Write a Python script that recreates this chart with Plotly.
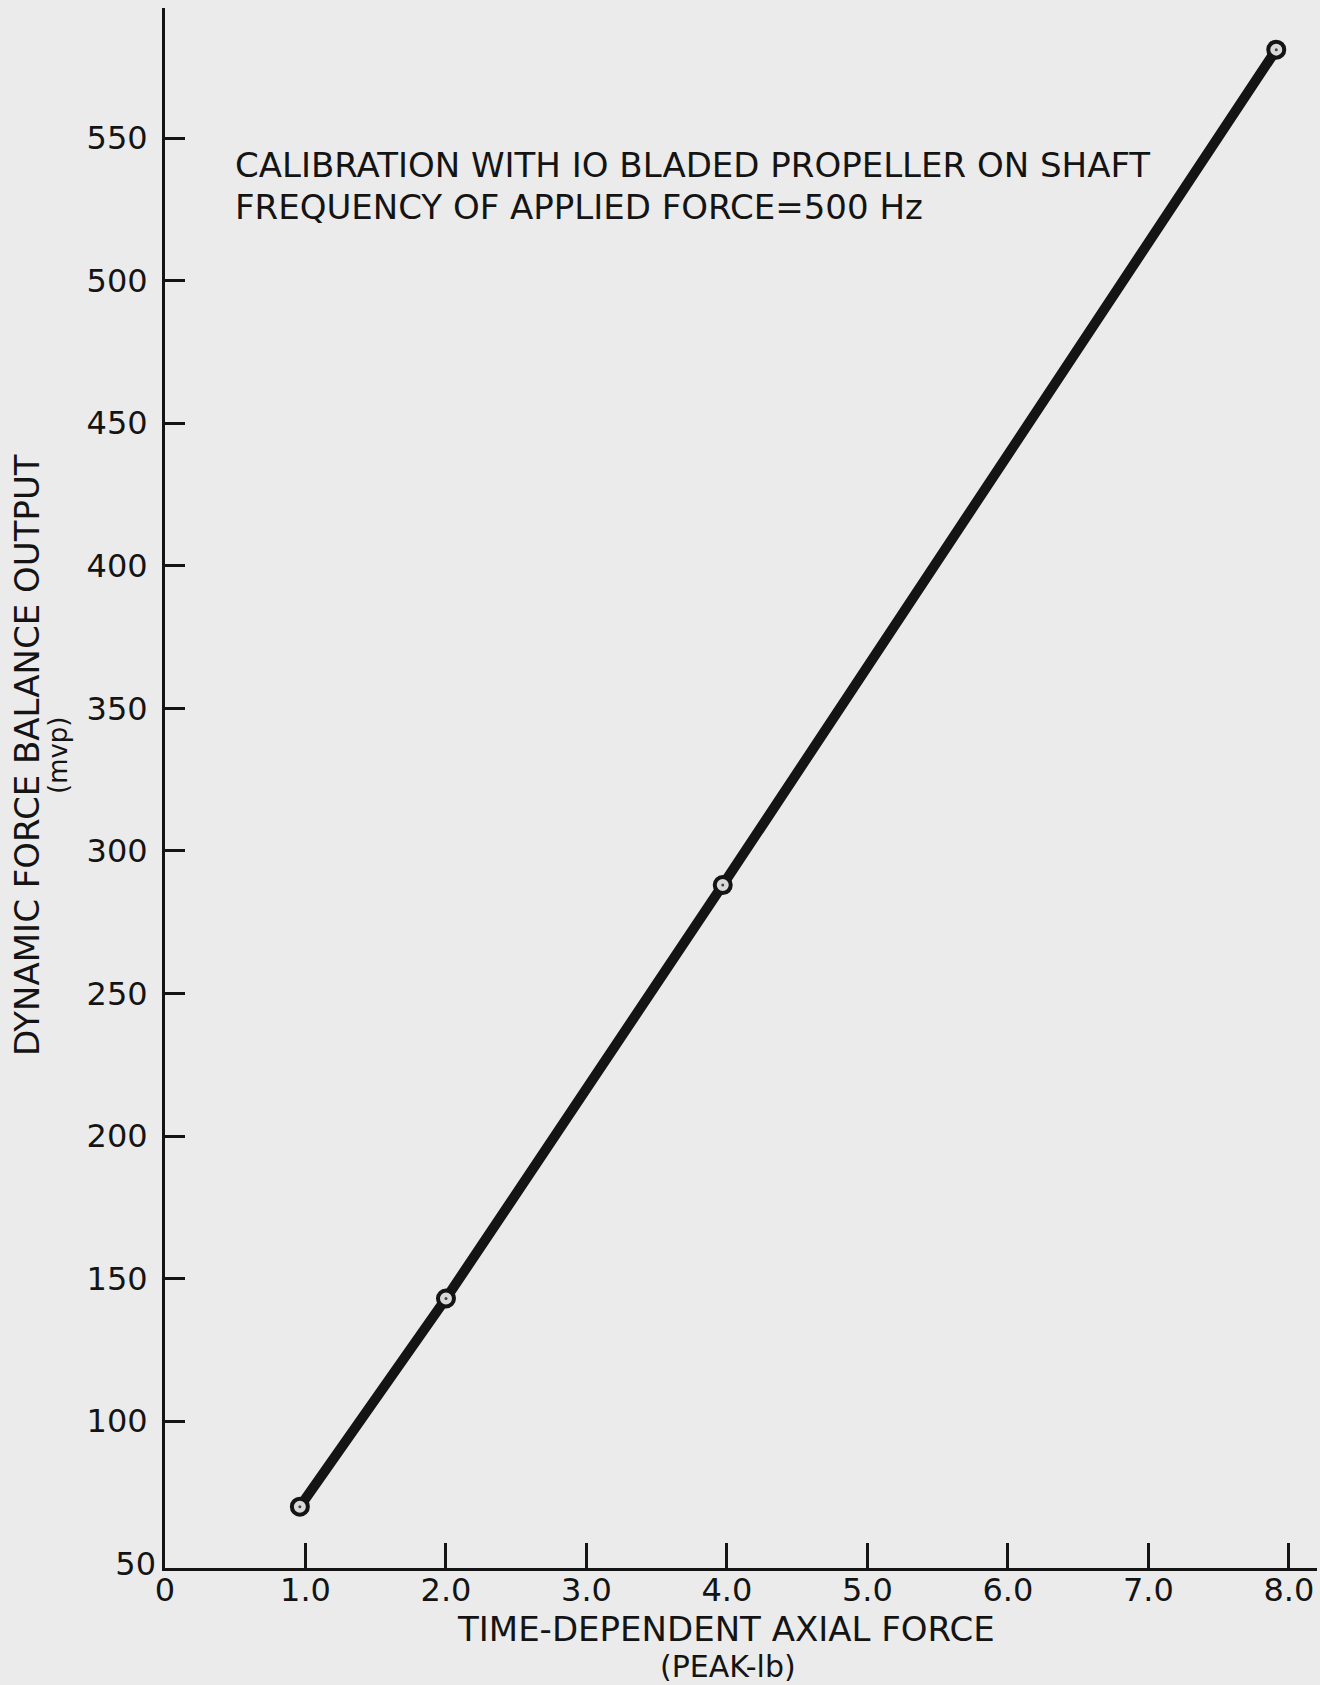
import plotly.graph_objects as go

# Data
force_peak_lb = [0.96, 2.0, 3.97, 7.91]
balance_output_mvp = [70, 143, 288, 581]

x_tick_vals = [0, 1, 2, 3, 4, 5, 6, 7, 8]
x_tick_text = ["0", "1.0", "2.0", "3.0", "4.0", "5.0", "6.0", "7.0", "8.0"]
y_tick_vals = [100, 150, 200, 250, 300, 350, 400, 450, 500, 550]
y_tick_text = [str(v) for v in y_tick_vals]
y_origin_val = [50]
y_origin_text = ["50"]

note_lines = ["CALIBRATION WITH IO BLADED PROPELLER ON SHAFT",
              "FREQUENCY OF APPLIED FORCE=500 Hz"]
x_title = ["TIME-DEPENDENT AXIAL FORCE", "(PEAK-lb)"]
y_title = ["DYNAMIC FORCE BALANCE OUTPUT", "(mvp)"]

INK = "#141414"
PAPER = "#ebebeb"
FONT = "DejaVu Sans, sans-serif"

L, T, B = 165, 8, 117
W, H = 1320, 1685
PW, PH = W - L - 3, H - T - B
Y_RANGE = [48.5, 595.6]


def px(xp):
    return (xp - L) / PW


def py(yp):
    return (H - B - yp) / PH


fig = go.Figure()
fig.add_trace(go.Scatter(
    x=force_peak_lb, y=balance_output_mvp, mode="lines+markers",
    line=dict(color=INK, width=10),
    marker=dict(size=16, color="#d9d9d9", line=dict(color=INK, width=4)),
    showlegend=False, hoverinfo="skip"))
fig.add_trace(go.Scatter(
    x=force_peak_lb, y=balance_output_mvp, mode="markers",
    marker=dict(size=3, color="#444"),
    showlegend=False, hoverinfo="skip"))

ann = []
ann.append(dict(text=note_lines[0], x=px(233), y=py(165), xanchor="left", yanchor="middle",
                font=dict(size=34)))
ann.append(dict(text=note_lines[1], x=px(233), y=py(207), xanchor="left", yanchor="middle",
                font=dict(size=34)))
ann.append(dict(text=x_title[0], x=px(726), y=py(1629), xanchor="center", yanchor="middle",
                font=dict(size=34)))
ann.append(dict(text=x_title[1], x=px(728), y=py(1666), xanchor="center", yanchor="middle",
                font=dict(size=30)))
ann.append(dict(text=y_title[0], x=px(27), y=py(755), xanchor="center", yanchor="middle",
                textangle=-90, font=dict(size=34)))
ann.append(dict(text=y_title[1], x=px(58), y=py(755), xanchor="center", yanchor="middle",
                textangle=-90, font=dict(size=26)))
for a in ann:
    a.update(xref="paper", yref="paper", showarrow=False)

fig.update_layout(
    width=W, height=H,
    margin=dict(l=L, r=3, t=T, b=B),
    paper_bgcolor=PAPER, plot_bgcolor=PAPER,
    font=dict(family=FONT, color=INK, size=30),
    xaxis=dict(range=[0, 8.2], tickvals=x_tick_vals, ticktext=x_tick_text,
               ticks="inside", ticklen=25, tickwidth=3, tickcolor=INK,
               showline=True, linecolor=INK, linewidth=3, showgrid=False,
               zeroline=False, tickfont=dict(size=32), ticklabelstandoff=-8),
    yaxis=dict(range=Y_RANGE, tickvals=y_tick_vals, ticktext=y_tick_text,
               ticks="inside", ticklen=20, tickwidth=3, tickcolor=INK,
               showline=True, linecolor=INK, linewidth=3, showgrid=False,
               zeroline=False, tickfont=dict(size=32), ticklabelstandoff=8),
    yaxis2=dict(range=Y_RANGE, overlaying="y", side="left", tickvals=y_origin_val,
                ticktext=y_origin_text, ticks="", showline=False, showgrid=False,
                zeroline=False, tickfont=dict(size=32), ticklabelstandoff=8),
    annotations=ann,
)
# invisible trace to activate the origin-label axis
fig.add_trace(go.Scatter(x=[None], y=[None], yaxis="y2", showlegend=False, hoverinfo="skip"))

fig.write_html("out.html")
